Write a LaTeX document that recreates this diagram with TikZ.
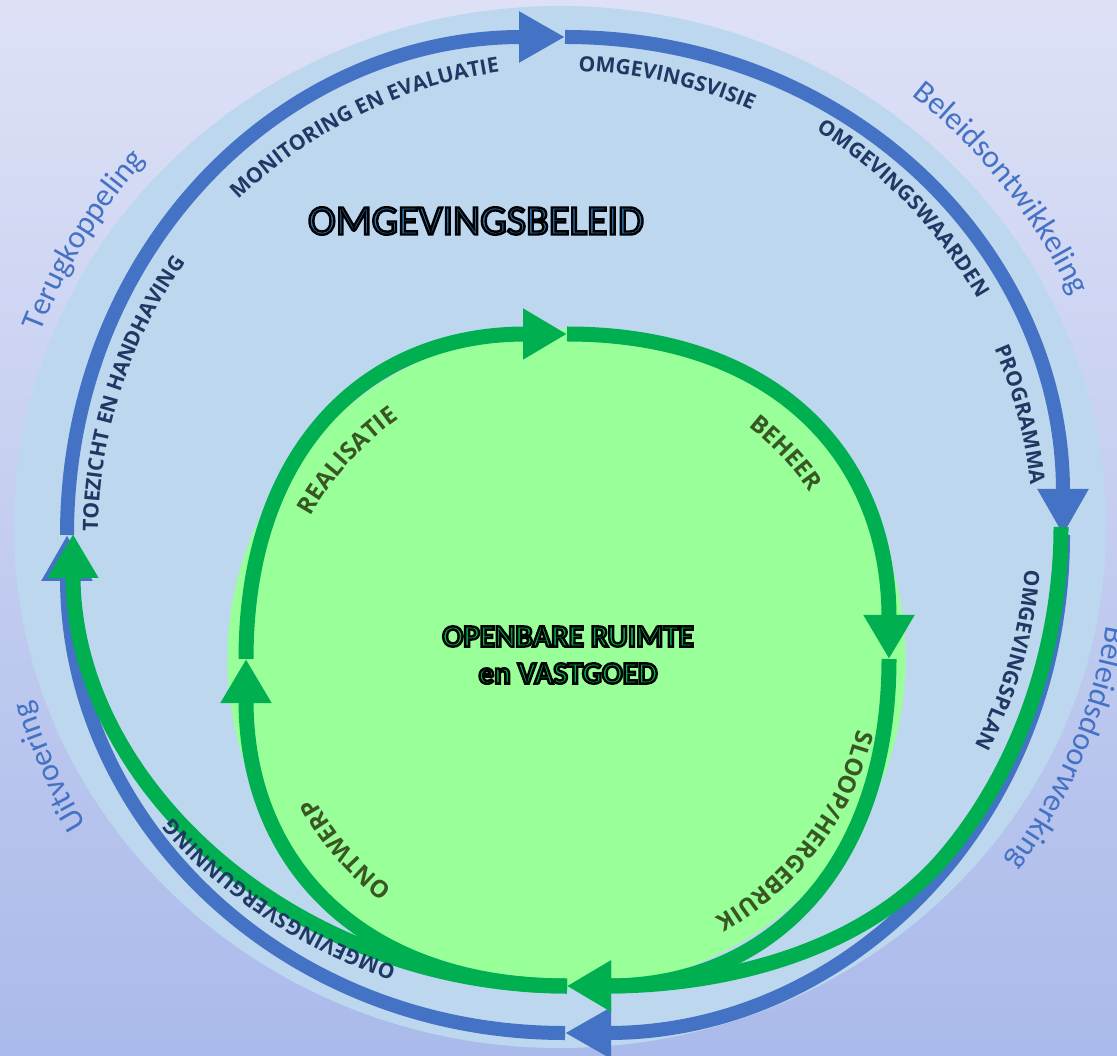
\documentclass[tikz,border=0pt]{standalone}
\usepackage{xcolor}
\usepackage{fontspec}
\usepackage{tikz}
\usetikzlibrary{arrows.meta}
\usetikzlibrary{decorations.text}
\setmainfont{Carlito}
\newfontfamily\lblfont{Open Sans}
\definecolor{bgtop}{RGB}{222,225,246}
\definecolor{bgbot}{RGB}{170,186,234}
\definecolor{ringfill}{RGB}{189,215,238}
\definecolor{lineblue}{RGB}{68,114,196}
\definecolor{linegreen}{RGB}{0,176,80}
\definecolor{fillgreen}{RGB}{153,255,153}
\definecolor{lblblue}{RGB}{31,56,100}
\definecolor{lblgreen}{RGB}{56,87,35}
\definecolor{titleblue}{RGB}{46,117,182}
\tikzstyle{bluearrow} = [draw=lineblue, line width=7pt, -{Triangle[length=23pt,width=24pt]}]
\tikzstyle{greenarrow} = [draw=linegreen, line width=7.5pt, -{Triangle[length=22pt,width=24pt]}]
\newcommand\bluefont{\lblfont\bfseries\fontsize{10.5pt}{12pt}\selectfont}
\newcommand\greenfont{\lblfont\bfseries\fontsize{12pt}{14pt}\selectfont}
\newcommand\phasefont{\fontsize{16pt}{19pt}\selectfont}
% text on an arc: centre, x radius, y radius, middle angle, colour, text
\newcommand\arclabel[6]{%
  \path[shift={(#1)}, decorate, decoration={text along path, text align=center, text color=#5, text={#6}}]
    (#4+40:#2 and #3) arc[start angle=#4+40, end angle=#4-40, x radius=#2, y radius=#3];}
\newcommand\outlined[1]{\special{pdf:literal direct 0 0 0 RG 1.2 w 2 Tr}#1\special{pdf:literal direct 0 Tr}}

\begin{document}
\begin{tikzpicture}[x=0.5pt, y=0.5pt]
        % background
        \useasboundingbox (0,0) rectangle (1117,1055);
        \clip (0,0) rectangle (1117,1055);
        \shade[top color=bgtop, bottom color=bgbot] (0,0) rectangle (1117,1055);
        \fill[ringfill] (560,528) ellipse [x radius=546, y radius=521];
        \fill[fillgreen] (566.5,396) ellipse [x radius=339, y radius=330];

        % anchor points
        \coordinate (Bc) at (565,520);
        \coordinate (B-n) at (565,1018);
        \coordinate (B-e) at (1063,520);
        \coordinate (B-s) at (565,22);
        \coordinate (B-w) at (67,520);
        \coordinate (Ic) at (567.5,396);
        \coordinate (I-n) at (567,721);
        \coordinate (I-e) at (889,396);
        \coordinate (I-s) at (567,69);
        \coordinate (I-w) at (246,396);
        \coordinate (G-e) at (1061,528);
        \coordinate (G-se) at (946,200);
        \coordinate (G-w) at (73,521);

        % policy cycle
        \draw[bluearrow] (B-w) .. controls +(0,284) and +(-284,0) .. (B-n);
        \draw[bluearrow] (B-n) .. controls +(284,0) and +(0,284) .. (B-e);
        \draw[bluearrow] (B-e) .. controls +(0,-284) and +(284,0) .. (B-s);
        \draw[bluearrow] (B-s) .. controls +(-284,0) and +(0,-284) .. (B-w);

        % links between the cycles
        \draw[greenarrow] (G-e) .. controls +(0,-117) and +(75,89) .. (G-se) .. controls +(-84,-100) and +(150,0) .. (I-s);
        \draw[greenarrow] (I-s) .. controls +(-273,0) and +(0,-250) .. (G-w);

        % project cycle
        \draw[greenarrow] (I-w) .. controls +(0,205) and +(-205,0) .. (I-n);
        \draw[greenarrow] (I-n) .. controls +(205,0) and +(0,205) .. (I-e);
        \draw[greenarrow] (I-e) .. controls +(0,-205) and +(205,0) .. (I-s);
        \draw[greenarrow] (I-s) .. controls +(-205,0) and +(0,-205) .. (I-w);

        % titles
        \node[font=\fontsize{21pt}{25pt}\selectfont, text=titleblue] (beleid) at (476,834) {\outlined{OMGEVINGSBELEID}};
        \node[font=\bfseries\fontsize{15.5pt}{18.5pt}\selectfont, text=linegreen, align=center] (ruimte) at (568,400) {\outlined{OPENBARE RUIMTE\\en VASTGOED}};

        % steps of the policy cycle
        \arclabel{Bc}{464}{464}{77.3}{lblblue}{|\bluefont|OMGEVINGSVISIE}
        \arclabel{Bc}{475.5}{475.5}{44}{lblblue}{|\bluefont|OMGEVINGSWAARDEN}
        \arclabel{Bc}{468}{468}{14.8}{lblblue}{|\bluefont|PROGRAMMA}
        \arclabel{Bc}{461}{461}{-15.75}{lblblue}{|\bluefont|OMGEVINGSPLAN}
        \arclabel{Bc}{498}{458}{233.4}{lblblue}{|\bluefont|OMGEVINGSVERGUNNING}
        \arclabel{Bc}{467}{467}{161.95}{lblblue}{|\bluefont|TOEZICHT EN HANDHAVING}
        \arclabel{Bc}{467.5}{467.5}{116.15}{lblblue}{|\bluefont|MONITORING EN EVALUATIE}

        % steps of the project cycle
        \arclabel{Ic}{293.5}{293.5}{138}{lblgreen}{|\greenfont|REALISATIE}
        \arclabel{Ic}{294.5}{294.5}{43.4}{lblgreen}{|\greenfont|BEHEER}
        \arclabel{Ic}{298}{298}{-36.95}{lblgreen}{|\greenfont|SLOOP/HERGEBRUIK}
        \arclabel{Ic}{288.5}{288.5}{220.65}{lblgreen}{|\greenfont|ONTWERP}

        % phases
        \arclabel{Bc}{562}{562}{148.55}{lineblue}{|\phasefont|Terugkoppeling}
        \arclabel{Bc}{560}{560}{38.5}{lineblue}{|\phasefont|Beleidsontwikkeling}
        \arclabel{Bc}{549}{549}{-22.95}{lineblue}{|\phasefont|Beleidsdoorwerking}
        \arclabel{Bc}{559}{559}{204.2}{lineblue}{|\phasefont|Uitvoering}
\end{tikzpicture}
\end{document}
